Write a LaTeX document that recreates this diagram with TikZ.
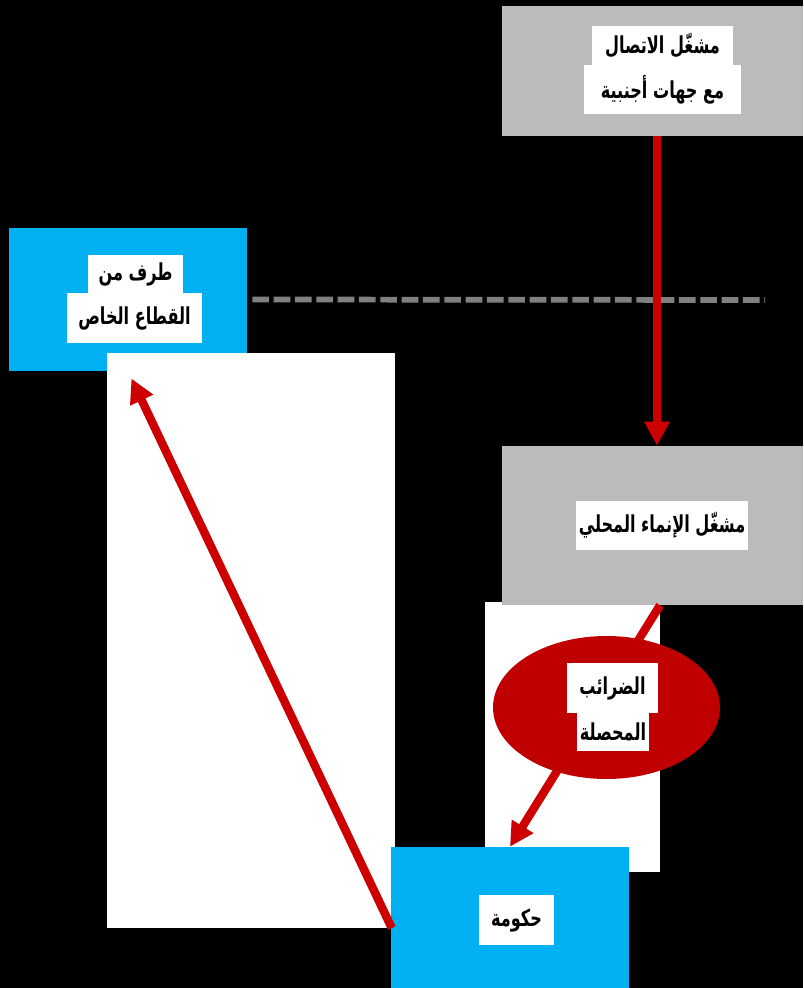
\documentclass[tikz,border=0pt]{standalone}
\usepackage{fontspec}
\newfontfamily\arabicfont[Script=Arabic,FakeStretch=0.69]{DejaVu Sans}
\TeXXeTstate=1
\usetikzlibrary{arrows.meta,calc,shapes.geometric}
\definecolor{boxgray}{HTML}{BBBBBB}
\definecolor{boxblue}{HTML}{00B0F0}
\definecolor{arrowred}{HTML}{CC0000}
\definecolor{ellred}{HTML}{C00000}
\definecolor{dashgray}{HTML}{808080}
\newcommand{\artxt}[1]{\beginR #1\endR}
\begin{document}
\begin{tikzpicture}[x=0.75pt,y=-0.75pt,
  graybox/.style={rectangle,fill=boxgray,inner sep=0pt,minimum width=225.75pt},
  bluebox/.style={rectangle,fill=boxblue,inner sep=0pt,minimum width=178.5pt},
  lbl/.style={rectangle,fill=white,inner sep=0pt,font=\arabicfont\bfseries\fontsize{17.5}{20}\selectfont},
  redarrow/.style={draw=arrowred,line width=6.3pt,-{Triangle[length=18pt,width=18pt]}},
  dashline/.style={draw=dashgray,line width=4.3pt,dash pattern=on 12.5pt off 3.5pt}]
\useasboundingbox (0,0) rectangle (803,988);
\fill[black] (0,0) rectangle (803,988);
% boxes
\node[bluebox,minimum height=107.25pt] (priv) at (128,299.5) {};
\fill[white] (107,353) rectangle (395,928);
\fill[white] (485,602) rectangle (660,872);
\node[bluebox,minimum height=105.75pt] (gov) at (510,917.5) {};
\node[graybox,minimum height=97.5pt] (op1) at (652.5,71) {};
\node[graybox,minimum height=119.25pt] (op2) at (652.5,525.5) {};
% connectors
\coordinate (dashend) at (765,300);
\draw[dashline] ($(priv.east)+(5,0)$) -- (dashend);
\draw[redarrow] ($(op1.south)+(4.5,0)$) -- ($(op2.north)+(4.5,0)$);
\draw[redarrow] ($(op2.south)+(7.5,0)$) -- (gov.north);
\draw[redarrow,shorten >=6pt] ($(gov.west)+(1,10.5)$) -- (priv.south);
% ellipse
\node[ellipse,fill=ellred,inner sep=0pt,minimum width=170.25pt,minimum height=107.25pt] (tax) at (606.5,707.5) {};
% labels
\node[lbl,minimum width=105.75pt,minimum height=29.25pt] (op1a) at (662.5,45.5) {\artxt{مشغّل الاتصال}};
\node[lbl,minimum width=117.75pt,minimum height=36.75pt] (op1b) at (662.5,89.5) {\artxt{مع جهات أجنبية}};
\node[lbl,minimum width=71.25pt,minimum height=28.5pt] (priva) at (135.5,274) {\artxt{طرف من}};
\node[lbl,minimum width=101.25pt,minimum height=37.5pt] (privb) at (134.5,318) {\artxt{القطاع الخاص}};
\node[lbl,minimum width=129pt,minimum height=36.75pt] (op2a) at (662,525.5) {\artxt{مشغّل الإنماء المحلي}};
\node[lbl,minimum width=68.25pt,minimum height=37.5pt] (taxa) at (612.5,688) {\artxt{الضرائب}};
\node[lbl,minimum width=54pt,minimum height=28.5pt] (taxb) at (613,731.5) {\artxt{المحصلة}};
\node[lbl,minimum width=56.25pt,minimum height=37.5pt] (gova) at (516.5,920) {\artxt{حكومة}};
\end{tikzpicture}
\end{document}
